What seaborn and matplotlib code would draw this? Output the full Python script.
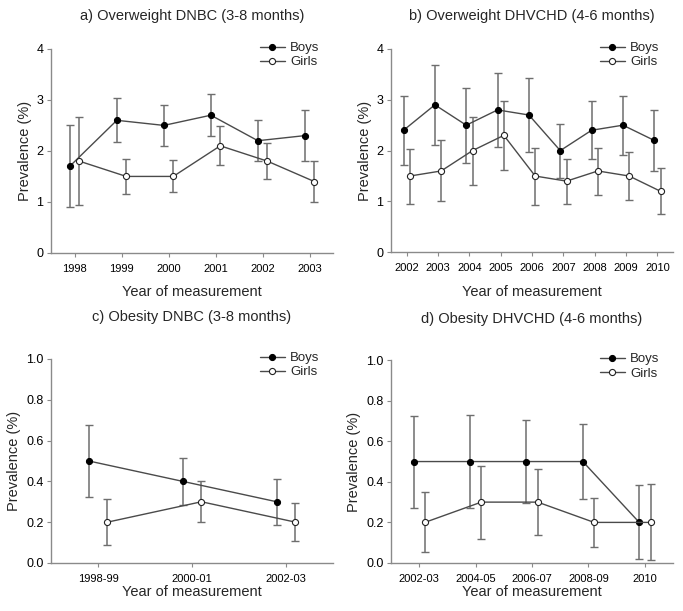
import numpy as np
import matplotlib.pyplot as plt
import seaborn as sns
import pandas as pd

# panel a: overweight DNBC
years_a = ["1998", "1999", "2000", "2001", "2002", "2003"]
boys_a = [1.7, 2.6, 2.5, 2.7, 2.2, 2.3]
boys_a_lo = [0.9, 2.17, 2.1, 2.29, 1.8, 1.81]
boys_a_hi = [2.5, 3.04, 2.9, 3.11, 2.6, 2.8]
girls_a = [1.8, 1.5, 1.5, 2.1, 1.8, 1.4]
girls_a_lo = [0.94, 1.16, 1.19, 1.72, 1.44, 1.0]
girls_a_hi = [2.66, 1.84, 1.82, 2.48, 2.16, 1.8]

# panel b: overweight DHVCHD
years_b = ["2002", "2003", "2004", "2005", "2006", "2007", "2008", "2009", "2010"]
boys_b = [2.4, 2.9, 2.5, 2.8, 2.7, 2.0, 2.4, 2.5, 2.2]
boys_b_lo = [1.71, 2.12, 1.75, 2.07, 1.97, 1.47, 1.83, 1.91, 1.59]
boys_b_hi = [3.08, 3.68, 3.24, 3.53, 3.42, 2.52, 2.97, 3.08, 2.79]
girls_b = [1.5, 1.6, 2.0, 2.3, 1.5, 1.4, 1.6, 1.5, 1.2]
girls_b_lo = [0.95, 1.0, 1.33, 1.62, 0.93, 0.95, 1.13, 1.02, 0.75]
girls_b_hi = [2.04, 2.2, 2.67, 2.98, 2.06, 1.84, 2.06, 1.98, 1.65]

# panel c: obesity DNBC
years_c = ["1998-99", "2000-01", "2002-03"]
boys_c = [0.5, 0.4, 0.3]
boys_c_lo = [0.325, 0.285, 0.187]
boys_c_hi = [0.675, 0.515, 0.413]
girls_c = [0.2, 0.3, 0.2]
girls_c_lo = [0.088, 0.2, 0.107]
girls_c_hi = [0.313, 0.402, 0.294]

# panel d: obesity DHVCHD
years_d = ["2002-03", "2004-05", "2006-07", "2008-09", "2010"]
boys_d = [0.5, 0.5, 0.5, 0.5, 0.2]
boys_d_lo = [0.273, 0.27, 0.295, 0.313, 0.018]
boys_d_hi = [0.727, 0.73, 0.705, 0.687, 0.384]
girls_d = [0.2, 0.3, 0.3, 0.2, 0.2]
girls_d_lo = [0.055, 0.12, 0.137, 0.08, 0.015]
girls_d_hi = [0.348, 0.48, 0.465, 0.322, 0.387]

sns.set_style("ticks")
plt.rcParams["font.family"] = ["Liberation Sans", "DejaVu Sans"]

fig = plt.figure(figsize=(6.83, 6.11), dpi=100)

line_col = "#4a4a4a"
err_col = "#6e6e6e"
spine_col = "#8a8a8a"


def draw_panel(rect, title, labels, boys, blo, bhi, girls, glo, ghi, ylim, yticks, yfmt,
               tpad, xpad, ypad):
    ax = fig.add_axes(rect)
    idx = np.arange(len(labels))
    df = pd.DataFrame({
        "x": np.concatenate([idx - 0.1, idx + 0.1]),
        "y": boys + girls,
        "sex": ["Boys"] * len(labels) + ["Girls"] * len(labels),
    })
    # error bars first so markers sit on top
    ax.errorbar(idx - 0.1, boys, yerr=[np.array(boys) - np.array(blo), np.array(bhi) - np.array(boys)],
                fmt="none", ecolor=err_col, elinewidth=1.1, capsize=2.6, capthick=1.0, zorder=1)
    ax.errorbar(idx + 0.1, girls, yerr=[np.array(girls) - np.array(glo), np.array(ghi) - np.array(girls)],
                fmt="none", ecolor=err_col, elinewidth=1.1, capsize=2.6, capthick=1.0, zorder=1)
    sns.lineplot(data=df[df.sex == "Boys"], x="x", y="y", ax=ax, color=line_col, lw=1.0,
                 marker="o", markersize=4.4, markerfacecolor="black", markeredgecolor="black",
                 label="Boys", zorder=3)
    sns.lineplot(data=df[df.sex == "Girls"], x="x", y="y", ax=ax, color=line_col, lw=1.0,
                 marker="o", markersize=4.4, markerfacecolor="white", markeredgecolor="#222222",
                 markeredgewidth=0.8, label="Girls", zorder=3)
    ax.set_xlim(-0.5, len(labels) - 0.5)
    ax.set_ylim(*ylim)
    ax.set_xticks(idx)
    ax.set_xticklabels(labels, fontsize=8)
    ax.set_yticks(yticks)
    ax.set_yticklabels([yfmt.format(v) for v in yticks], fontsize=9)
    ax.set_xlabel("Year of measurement", fontsize=10.5, labelpad=xpad)
    ax.set_ylabel("Prevalence (%)", fontsize=10.5, labelpad=ypad)
    ax.set_title(title, fontsize=10.5, pad=tpad)
    sns.despine(ax=ax)
    for s in ["left", "bottom"]:
        ax.spines[s].set_color(spine_col)
        ax.spines[s].set_linewidth(1.0)
    ax.tick_params(axis="both", colors=spine_col, length=3, width=0.8, labelcolor="black")
    ax.tick_params(axis="x", pad=5)
    ax.tick_params(axis="y", pad=2.5)
    ax.legend(loc="upper right", frameon=False, fontsize=9.5, handlelength=1.9,
              handletextpad=0.4, labelspacing=0.15, borderaxespad=0.0,
              bbox_to_anchor=(0.97, 1.06))
    return ax


draw_panel([0.0747, 0.586, 0.413, 0.334], "a) Overweight DNBC (3-8 months)", years_a,
           boys_a, boys_a_lo, boys_a_hi, girls_a, girls_a_lo, girls_a_hi,
           (0, 4), [0, 1, 2, 3, 4], "{:.0f}", 21, 8, 3)
draw_panel([0.5725, 0.587, 0.413, 0.333], "b) Overweight DHVCHD (4-6 months)", years_b,
           boys_b, boys_b_lo, boys_b_hi, girls_b, girls_b_lo, girls_b_hi,
           (0, 4), [0, 1, 2, 3, 4], "{:.0f}", 21, 8, 3)
draw_panel([0.0747, 0.0786, 0.413, 0.334], "c) Obesity DNBC (3-8 months)", years_c,
           boys_c, boys_c_lo, boys_c_hi, girls_c, girls_c_lo, girls_c_hi,
           (0, 1), [0, 0.2, 0.4, 0.6, 0.8, 1.0], "{:.1f}", 27, 1, 3.5)
draw_panel([0.5725, 0.0786, 0.413, 0.332], "d) Obesity DHVCHD (4-6 months)", years_d,
           boys_d, boys_d_lo, boys_d_hi, girls_d, girls_d_lo, girls_d_hi,
           (0, 1), [0, 0.2, 0.4, 0.6, 0.8, 1.0], "{:.1f}", 27, 1, 3.5)

plt.savefig("out.png", dpi=100)
